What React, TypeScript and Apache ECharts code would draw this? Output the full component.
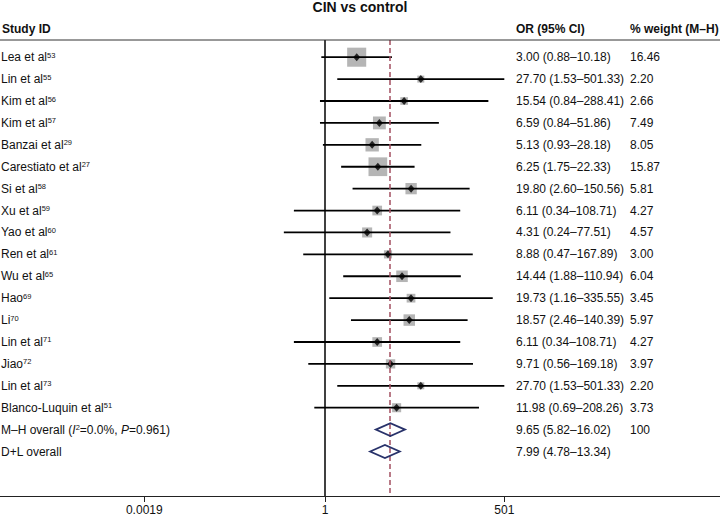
import React, { useEffect, useRef } from "react";
import * as echarts from "echarts";

const FONT = '"Liberation Sans", Arial, Helvetica, sans-serif';

const studies = ["Lea et al", "Lin et al", "Kim et al", "Kim et al", "Banzai et al", "Carestiato et al", "Si et al", "Xu et al", "Yao et al", "Ren et al", "Wu et al", "Hao", "Li", "Lin et al", "Jiao", "Lin et al", "Blanco-Luquin et al"];
const refs = ["53", "55", "56", "57", "29", "27", "58", "59", "60", "61", "65", "69", "70", "71", "72", "73", "51"];
const orValues = [3.0, 27.7, 15.54, 6.59, 5.13, 6.25, 19.8, 6.11, 4.31, 8.88, 14.44, 19.73, 18.57, 6.11, 9.71, 27.7, 11.98];
const loValues = [0.88, 1.53, 0.84, 0.84, 0.93, 1.75, 2.6, 0.34, 0.24, 0.47, 1.88, 1.16, 2.46, 0.34, 0.56, 1.53, 0.69];
const hiValues = [10.18, 501.33, 288.41, 51.86, 28.18, 22.33, 150.56, 108.71, 77.51, 167.89, 110.94, 335.55, 140.39, 108.71, 169.18, 501.33, 208.26];
const weights = [16.46, 2.2, 2.66, 7.49, 8.05, 15.87, 5.81, 4.27, 4.57, 3.0, 6.04, 3.45, 5.97, 4.27, 3.97, 2.2, 3.73];

const overallLabels = ["M–H overall ({i|I}{sup|2}=0.0%, {i|P}=0.961)", "D+L overall"];
const overallOr = [9.65, 7.99];
const overallLo = [5.82, 4.78];
const overallHi = [16.02, 13.34];
const overallWeight = ["100", ""];

const tickValues = [0.0019, 1, 501];
const tickLabels = ["0.0019", "1", "501"];

const lg = (v: number) => Math.log10(v);
const fmt = (v: number) => v.toFixed(2);

export default function App() {
  const ref = useRef<HTMLDivElement>(null);
  useEffect(() => {
    const chart = echarts.init(ref.current!, null, { renderer: "svg" });
    const nStudies = studies.length;
    const studyRows = studies.map((_, i) => [lg(orValues[i]), i, lg(loValues[i]), lg(hiValues[i]), weights[i]]);
    const overallRows = overallOr.map((v, j) => [lg(v), nStudies + j, lg(overallLo[j]), lg(overallHi[j])]);
    const allRowTexts = [
      ...studies.map((s, i) => ({
        label: `${s}{sup|${refs[i]}}`,
        or: `${fmt(orValues[i])} (${fmt(loValues[i])}–${fmt(hiValues[i])})`,
        w: weights[i].toFixed(2),
      })),
      ...overallLabels.map((s, j) => ({
        label: s,
        or: `${fmt(overallOr[j])} (${fmt(overallLo[j])}–${fmt(overallHi[j])})`,
        w: overallWeight[j],
      })),
    ];
    const logTicks = tickValues.map(lg);
    const richText = {
      sup: { fontSize: 7.5, verticalAlign: "top", fontFamily: FONT, fill: "#111" },
      i: { fontStyle: "italic", fontSize: 12, fontFamily: FONT, fill: "#111" },
    };

    const option: any = {
      animation: false,
      backgroundColor: "#fff",
      title: {
        text: "CIN vs control",
        left: "center",
        top: 0,
        padding: [0, 5, 0, 5],
        textStyle: { fontFamily: FONT, fontSize: 14, fontWeight: "bold", color: "#111" },
      },
      grid: { left: 0, right: 0, top: 40, bottom: 23, containLabel: false },
      xAxis: {
        type: "value",
        min: -4.894,
        max: 5.948,
        splitLine: { show: false },
        axisLine: { show: true, onZero: false, lineStyle: { color: "#222", width: 1 } },
        axisTick: { show: true, customValues: logTicks, length: 6, lineStyle: { color: "#222", width: 1 } },
        axisLabel: {
          show: true,
          customValues: logTicks,
          margin: 8,
          fontFamily: FONT,
          fontSize: 12,
          color: "#111",
          formatter: (v: number) => {
            let best = 0;
            logTicks.forEach((t, k) => {
              if (Math.abs(t - v) < Math.abs(logTicks[best] - v)) best = k;
            });
            return tickLabels[best];
          },
        },
      },
      yAxis: { type: "value", min: -0.785, max: 20.03, inverse: true, show: false },
      graphic: [
        { type: "line", shape: { x1: 0, y1: 40, x2: 720, y2: 40 }, style: { stroke: "#333", lineWidth: 1 }, z: 10 },
        { type: "text", x: 2, y: 29, style: { text: "Study ID", fontFamily: FONT, fontSize: 12, fontWeight: "bold", fill: "#111", verticalAlign: "middle" } },
        { type: "text", x: 516, y: 29, style: { text: "OR (95% CI)", fontFamily: FONT, fontSize: 12, fontWeight: "bold", fill: "#111", verticalAlign: "middle" } },
        { type: "text", x: 630, y: 29, style: { text: "% weight (M–H)", fontFamily: FONT, fontSize: 12, fontWeight: "bold", fill: "#111", verticalAlign: "middle" } },
      ],
      series: [
        {
          type: "custom",
          name: "boxes",
          z: 2,
          data: studyRows,
          encode: { x: [0, 2, 3], y: 1 },
          renderItem: (params: any, api: any) => {
            const y = api.value(1);
            const c = api.coord([api.value(0), y]);
            const cl = api.coord([api.value(2), y]);
            const ch = api.coord([api.value(3), y]);
            const s = 4.7 * Math.sqrt(api.value(4));
            return {
              type: "group",
              children: [
                { type: "rect", shape: { x: c[0] - s / 2, y: c[1] - s / 2, width: s, height: s }, style: { fill: "#b5b5b5" } },
                { type: "line", shape: { x1: cl[0], y1: cl[1], x2: ch[0], y2: ch[1] }, style: { stroke: "#000", lineWidth: 1.8 } },
              ],
            };
          },
        },
        {
          type: "scatter",
          name: "points",
          z: 4,
          symbol: "diamond",
          symbolSize: [7, 8],
          itemStyle: { color: "#000" },
          data: studyRows.map((r) => [r[0], r[1]]),
          markLine: {
            silent: true,
            symbol: ["none", "none"],
            label: { show: false },
            data: [
              { xAxis: 0, lineStyle: { color: "#000", width: 1.5, type: "solid" } },
              { xAxis: lg(overallOr[0]), lineStyle: { color: "#a34f60", width: 1.5, type: [5, 3] } },
            ],
          },
        },
        {
          type: "custom",
          name: "overall",
          z: 5,
          data: overallRows,
          encode: { x: [0, 2, 3], y: 1 },
          renderItem: (params: any, api: any) => {
            const y = api.value(1);
            const c = api.coord([api.value(0), y]);
            const cl = api.coord([api.value(2), y]);
            const ch = api.coord([api.value(3), y]);
            const h = 6.5;
            return {
              type: "polygon",
              shape: { points: [[cl[0], c[1]], [c[0], c[1] - h], [ch[0], c[1]], [c[0], c[1] + h]] },
              style: { fill: "none", stroke: "#28326a", lineWidth: 1.8 },
            };
          },
        },
        {
          type: "custom",
          name: "texts",
          z: 6,
          data: allRowTexts.map((_, i) => [0, i]),
          encode: { x: 0, y: 1 },
          renderItem: (params: any, api: any) => {
            const i = params.dataIndex;
            const y = api.coord([0, api.value(1)])[1];
            const t = allRowTexts[i];
            const base = { fontFamily: FONT, fontSize: 12, fill: "#111", verticalAlign: "middle", align: "left" };
            return {
              type: "group",
              children: [
                { type: "text", x: 1, y, style: { ...base, text: t.label, rich: richText } },
                { type: "text", x: 516, y, style: { ...base, text: t.or } },
                { type: "text", x: 630, y, style: { ...base, text: t.w } },
              ],
            };
          },
        },
      ],
    };
    chart.setOption(option);
    return () => chart.dispose();
  }, []);
  return <div ref={ref} style={{ position: "absolute", left: 0, top: 0, width: 720, height: 519 }} />;
}
